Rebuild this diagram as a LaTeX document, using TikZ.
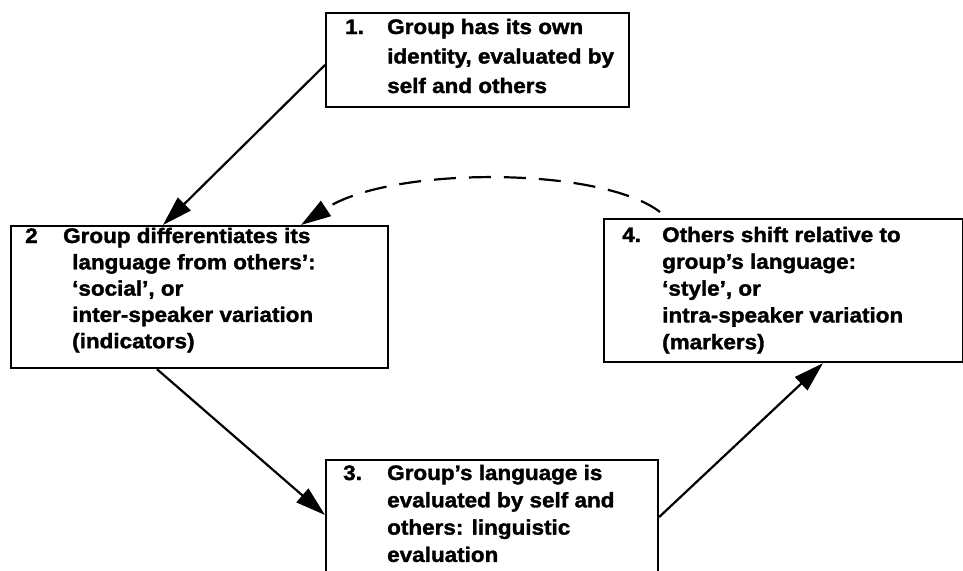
\documentclass[tikz,border=0pt]{standalone}
\usepackage{fontspec}
\usetikzlibrary{arrows.meta,calc}
\newfontfamily\hvfont{Liberation Sans}[FakeStretch=1.07, BoldFeatures={FakeBold=1.6}]
\tikzset{
  box/.style={draw, line width=2.2pt, inner sep=0pt, fill=white},
  txt/.style={inner sep=0pt, anchor=base west, font=\hvfont\bfseries},
  conn/.style={line width=2.2pt, -{Triangle[length=30pt,width=18pt]}},
}
\begin{document}
\begin{tikzpicture}[x=1pt,y=-1pt]
\useasboundingbox (0,0) rectangle (963,570);
\clip (0,0) rectangle (963,570);
% boxes
\node[box, minimum width=303pt, minimum height=94pt, anchor=north west] (b1) at (325,12) {};
\node[box, minimum width=377pt, minimum height=142pt, anchor=north west] (b2) at (10,225) {};
\node[box, minimum width=359pt, minimum height=143pt, anchor=north west] (b4) at (603,218) {};
\node[box, minimum width=332pt, minimum height=160pt, anchor=north west] (b3) at (325,459) {};
% texts
\node[txt] (t1) at (345,34) {\fontsize{21}{29.5}\selectfont
  \begin{tabular}[t]{@{}p{42pt}@{}l@{}}1. & Group has its own\\ & identity, evaluated by\\ & self and others\end{tabular}};
\node[txt] (t2) at (25,243) {\fontsize{21}{26.3}\selectfont
  \begin{tabular}[t]{@{}l@{}}\makebox[38pt][l]{2}Group differentiates its\\
  \hspace*{47pt}language from others’:\\
  \hspace*{47pt}‘social’, or\\
  \hspace*{47pt}inter-speaker variation\\
  \hspace*{47pt}(indicators)\end{tabular}};
\node[txt] (t4) at (622,242) {\fontsize{21}{26.8}\selectfont
  \begin{tabular}[t]{@{}p{40pt}@{}l@{}}4. & Others shift relative to\\ & group’s language:\\ & ‘style’, or\\ & intra-speaker variation\\ & (markers)\end{tabular}};
\node[txt] (t3) at (343,480) {\fontsize{21}{27.3}\selectfont
  \begin{tabular}[t]{@{}p{44pt}@{}l@{}}3. & Group’s language is\\ & evaluated by self and\\ & others: linguistic\\ & evaluation\end{tabular}};
% connectors
\draw[conn] ([yshift=-53pt]b1.north west) -- ([xshift=153pt]b2.north west);
\draw[conn] ([xshift=147pt]b2.south west) -- ([yshift=-56pt]b3.north west);
\draw[conn] ([yshift=-58pt]b3.north east) -- ([xshift=220pt]b4.south west);
\draw[conn, dash pattern=on 22pt off 13pt]
  ([xshift=57pt,yshift=6pt]b4.north west) .. controls (600,166) and (390,166) .. ([xshift=291pt]b2.north west);
\end{tikzpicture}
\end{document}
